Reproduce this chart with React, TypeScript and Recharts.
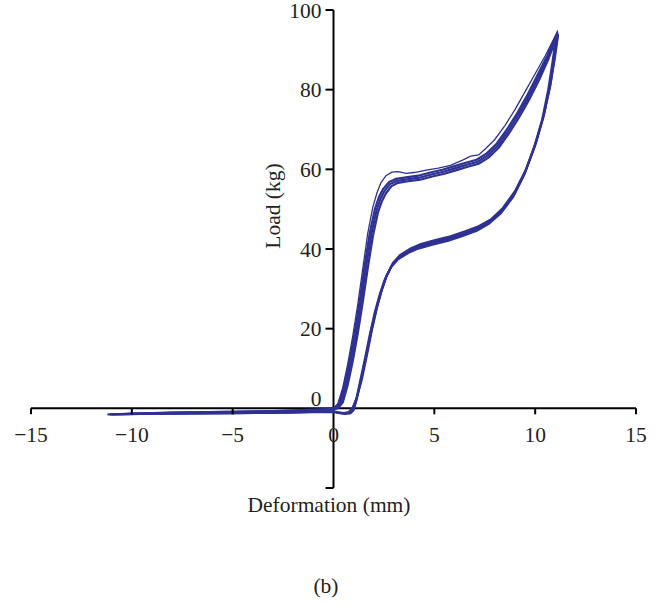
import { LineChart, Line, XAxis, YAxis, ReferenceLine } from 'recharts';

// deformation (mm), load (kg), one loop per cycle
const cycle1Up: [number, number][] = [
  [0, 0], [0.2, 1], [0.45, 5], [0.7, 11], [0.95, 18], [1.2, 26], [1.45, 35], [1.7, 44],
  [1.95, 50.5], [2.15, 54], [2.35, 56.6], [2.6, 58.4], [2.9, 59.3], [3.2, 59.4], [3.6, 59],
  [4, 59.2], [4.6, 59.8], [5.2, 60.3], [5.8, 61], [6.4, 62.3], [6.8, 63.3], [7.2, 63.6],
  [7.6, 65.5], [8, 67.5], [8.5, 71], [9, 75], [9.5, 79.5], [10, 84], [10.5, 88.5], [10.9, 92.5],
  [11.1, 94.6],
];
const cycle1Down: [number, number][] = [
  [11.15, 93.5], [11, 88], [10.8, 82], [10.5, 75], [10.1, 67.5], [9.6, 60.5], [9, 54],
  [8.4, 50], [7.8, 47], [7.2, 45.4], [6.5, 44], [5.8, 42.9], [5, 41.9], [4.3, 40.9],
  [3.8, 39.8], [3.3, 38.2], [2.95, 36.3], [2.65, 33.3], [2.4, 29.6], [2.15, 25], [1.9, 19.5],
  [1.65, 13.5], [1.4, 7.5], [1.15, 2.8], [0.95, 0.3], [0.75, -0.9], [0.5, -1.2], [0.2, -1],
  [0, -0.8], [-1, -0.9], [-2, -1], [-4, -1.1], [-6, -1.2], [-8, -1.3], [-10, -1.4],
  [-11.2, -1.5], [-9, -1.1], [-6, -0.9], [-3, -0.7], [-1, -0.5], [-0.3, -0.2],
];

const cycle2Up: [number, number][] = [
  [-0.3, -0.2], [0.05, 0], [0.3, 1.5], [0.55, 6], [0.8, 12], [1.05, 19], [1.3, 27], [1.55, 36],
  [1.8, 44], [2.05, 50], [2.25, 53], [2.45, 55], [2.75, 56.8], [3.1, 57.6], [3.6, 58],
  [4.2, 58.4], [4.8, 59.2], [5.4, 59.9], [6, 60.8], [6.6, 61.7], [7.1, 62.4], [7.6, 64],
  [8.1, 66.5], [8.6, 70], [9.1, 74], [9.6, 78.5], [10.1, 83.5], [10.6, 88.5], [10.95, 92.5],
  [11.1, 94],
];
const cycle2Down: [number, number][] = [
  [11.1, 93], [10.95, 88], [10.75, 81], [10.45, 74], [10.05, 67], [9.55, 60], [9, 54.5],
  [8.4, 50.3], [7.8, 47.4], [7.2, 45.7], [6.5, 44.4], [5.8, 43.2], [5, 42.2], [4.3, 41.2],
  [3.8, 40.1], [3.3, 38.5], [2.95, 36.5], [2.65, 33.5], [2.4, 29.8], [2.15, 25.2],
  [1.9, 19.6], [1.65, 13.2], [1.4, 7.2], [1.15, 2.6], [0.95, 0.1], [0.75, -1], [0.5, -1.2],
  [0.2, -1], [0, -0.7], [-2, -1], [-5, -1.2], [-8, -1.3], [-11.1, -1.5], [-8, -1.1],
  [-4, -0.8], [-1, -0.5], [-0.3, -0.2],
];

const cycle3Up: [number, number][] = [
  [-0.3, -0.2], [0.13, 0], [0.38, 1.5], [0.63, 6], [0.88, 12], [1.13, 19], [1.38, 27],
  [1.63, 36], [1.88, 43.8], [2.13, 49.6], [2.32, 52.5], [2.52, 54.5], [2.8, 56.3], [3.15, 57.1],
  [3.65, 57.5], [4.25, 57.9], [4.85, 58.7], [5.45, 59.4], [6.05, 60.3], [6.65, 61.2],
  [7.15, 61.9], [7.65, 63.5], [8.15, 66], [8.65, 69.5], [9.15, 73.5], [9.65, 78], [10.15, 83],
  [10.62, 88], [10.95, 92.1], [11.07, 93.5],
];
const cycle3Down: [number, number][] = [
  [11.05, 92.5], [10.9, 87], [10.7, 80.5], [10.4, 73], [10, 66], [9.5, 59.2], [8.95, 53.6],
  [8.35, 49.6], [7.75, 46.8], [7.15, 45.1], [6.45, 43.8], [5.75, 42.6], [4.95, 41.6],
  [4.25, 40.6], [3.75, 39.5], [3.25, 37.9], [2.9, 35.9], [2.6, 32.9], [2.35, 29.2],
  [2.1, 24.6], [1.85, 19], [1.6, 12.8], [1.35, 6.8], [1.15, 2.2], [1, -0.2], [0.8, -1.1],
  [0.55, -1.3], [0.25, -1.1], [0, -0.8], [-3, -1.1], [-6, -1.2], [-9, -1.35], [-11, -1.5],
  [-7, -1], [-3, -0.7], [-0.3, -0.2],
];

const cycle4Up: [number, number][] = [
  [-0.3, -0.2], [0.21, 0], [0.46, 1.5], [0.71, 6], [0.96, 12], [1.21, 19], [1.46, 27],
  [1.71, 35.6], [1.96, 43.4], [2.2, 49.1], [2.4, 52], [2.6, 54], [2.88, 55.8], [3.2, 56.6],
  [3.7, 57], [4.3, 57.4], [4.9, 58.2], [5.5, 58.9], [6.1, 59.8], [6.7, 60.7], [7.2, 61.4],
  [7.7, 63], [8.2, 65.5], [8.7, 69], [9.2, 73], [9.7, 77.5], [10.2, 82.5], [10.65, 87.6],
  [10.95, 91.6], [11.03, 92.8],
];
const cycle4Down: [number, number][] = [
  [11, 92], [10.85, 86.5], [10.65, 80], [10.35, 72.5], [9.95, 65.5], [9.45, 58.6], [8.9, 53],
  [8.3, 49], [7.7, 46.3], [7.1, 44.6], [6.4, 43.3], [5.7, 42.1], [4.9, 41.1], [4.2, 40.1],
  [3.7, 39], [3.2, 37.4], [2.85, 35.4], [2.55, 32.4], [2.3, 28.7], [2.05, 24.1], [1.8, 18.5],
  [1.55, 12.2], [1.3, 6.3], [1.12, 2], [1, -0.4], [0.85, -1.2], [0.6, -1.4], [0.3, -1.2],
  [0, -0.9], [-4, -1.15], [-7, -1.3], [-10, -1.4], [-11.2, -1.55],
];

const xTicks = [-15, -10, -5, 0, 5, 10, 15];
const yTicks = [-20, 0, 20, 40, 60, 80, 100];

const W = 657;
const H = 604;
const AX = 1; // thickness reserved for the (invisible) axis boxes
const M = { top: 10, right: 21, left: 31 - AX, bottom: 116 - AX };
const X_DOMAIN: [number, number] = [-15, 15];
const Y_DOMAIN: [number, number] = [-20, 100];
const PLOT_L = M.left + AX;
const PLOT_W = W - PLOT_L - M.right;
const PLOT_H = H - M.top - M.bottom - AX;
// pixel position where the axes cross (x = 0, y = 0)
const X0 = PLOT_L + (PLOT_W * (0 - X_DOMAIN[0])) / (X_DOMAIN[1] - X_DOMAIN[0]);
const Y0 = M.top + (PLOT_H * (Y_DOMAIN[1] - 0)) / (Y_DOMAIN[1] - Y_DOMAIN[0]);

const FONT = '"Liberation Serif", "DejaVu Serif", serif';
const FS = 21.5;
const INK = '#231f20';
const BLUE = '#2e3192';

const toPts = (up: [number, number][], down: [number, number][]) =>
  [...up, ...down].map(([x, y]) => ({ x, y }));

const cycles = [
  { key: 'c1', data: toPts(cycle1Up, cycle1Down), width: 1.3 },
  { key: 'c2', data: toPts(cycle2Up, cycle2Down), width: 2.2 },
  { key: 'c3', data: toPts(cycle3Up, cycle3Down), width: 2.2 },
  { key: 'c4', data: toPts(cycle4Up, cycle4Down), width: 2.2 },
];

const fmt = (v: number) => (v < 0 ? `\u2212${Math.abs(v)}` : `${v}`);

function XTick({ x, payload }: any) {
  const v = payload.value;
  return (
    <g>
      {v !== 0 && <line x1={x} x2={x} y1={Y0} y2={Y0 + 6} stroke="#000" strokeWidth={2} />}
      <text x={x} y={Y0 + 34} textAnchor="middle" fill={INK} fontSize={FS} fontFamily={FONT}>
        {fmt(v)}
      </text>
    </g>
  );
}

function YTick({ y, payload }: any) {
  const v = payload.value;
  return (
    <g>
      {v !== 0 && <line x1={X0 - 8} x2={X0} y1={y} y2={y} stroke="#000" strokeWidth={2} />}
      {v !== -20 && (
        <text
          x={X0 - 12}
          y={v === 0 ? y - 10 : y}
          dy="0.35em"
          textAnchor="end"
          fill={INK}
          fontSize={FS}
          fontFamily={FONT}
        >
          {fmt(v)}
        </text>
      )}
    </g>
  );
}

export default function App() {
  return (
    <div style={{ position: 'absolute', left: 0, top: 0, width: W, height: H, background: '#fff' }}>
      <LineChart width={W} height={H} margin={M}>
        <XAxis
          type="number"
          dataKey="x"
          domain={X_DOMAIN}
          ticks={xTicks}
          interval={0}
          height={AX}
          axisLine={false}
          tickLine={false}
          tick={<XTick />}
          allowDataOverflow
        />
        <YAxis
          type="number"
          domain={Y_DOMAIN}
          ticks={yTicks}
          interval={0}
          width={AX}
          axisLine={false}
          tickLine={false}
          tick={<YTick />}
          allowDataOverflow
        />
        <ReferenceLine y={0} stroke="#000" strokeWidth={2} />
        <ReferenceLine x={0} stroke="#000" strokeWidth={2} />
        {cycles.map((c) => (
          <Line
            key={c.key}
            data={c.data}
            dataKey="y"
            type="linear"
            stroke={BLUE}
            strokeWidth={c.width}
            dot={false}
            isAnimationActive={false}
          />
        ))}
      </LineChart>
      <svg
        width={W}
        height={H}
        style={{ position: 'absolute', left: 0, top: 0, pointerEvents: 'none' }}
      >
        <text x={329} y={512} textAnchor="middle" fill={INK} fontSize={FS} fontFamily={FONT}>
          Deformation (mm)
        </text>
        <text x={326} y={593} textAnchor="middle" fill={INK} fontSize={FS} fontFamily={FONT}>
          (b)
        </text>
        <text
          transform="translate(280, 206) rotate(-90)"
          textAnchor="middle"
          fill={INK}
          fontSize={FS}
          fontFamily={FONT}
        >
          Load (kg)
        </text>
      </svg>
    </div>
  );
}
